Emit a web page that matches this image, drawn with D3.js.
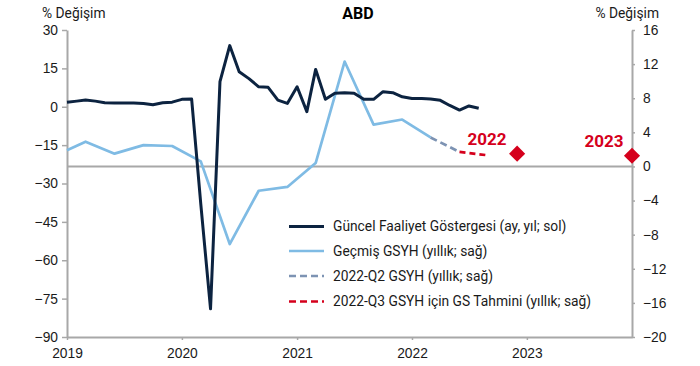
<!DOCTYPE html>
<html>
<head>
<meta charset="utf-8">
<script src="https://cdn.jsdelivr.net/npm/d3@7"></script>
<style>
  html, body { margin: 0; padding: 0; background: #fff; }
  svg { display: block; font-family: Roboto, "Noto Sans", sans-serif; }
</style>
</head>
<body>
<svg id="chart" width="700" height="366"></svg>
<script>
// ---------- DATA ----------
const activityMonths = [
  "2019-01","2019-02","2019-03","2019-04","2019-05","2019-06","2019-07","2019-08","2019-09","2019-10","2019-11","2019-12",
  "2020-01","2020-02","2020-03","2020-04","2020-05","2020-06","2020-07","2020-08","2020-09","2020-10","2020-11","2020-12",
  "2021-01","2021-02","2021-03","2021-04","2021-05","2021-06","2021-07","2021-08","2021-09","2021-10","2021-11","2021-12",
  "2022-01","2022-02","2022-03","2022-04","2022-05","2022-06","2022-07","2022-08"
];
const activityValues = [
  1.8, 2.2, 2.6, 2.2, 1.6, 1.5, 1.5, 1.5, 1.3, 0.8, 1.6, 1.8,
  2.9, 3.0, -38, -79, 9.8, 23.9, 13.7, 11.0, 7.8, 7.6, 2.6, 1.3,
  7.8, -1.9, 14.6, 2.9, 5.3, 5.5, 5.3, 2.9, 2.9, 5.9, 5.5, 3.9,
  3.2, 3.2, 3.0, 2.5, 0.5, -1.3, 0.3, -0.6
];
const gdpMonths = ["2019-01","2019-03","2019-06","2019-09","2019-12","2020-03","2020-06","2020-09","2020-12","2021-03","2021-06","2021-09","2021-12","2022-03"];
const gdpValues = [1.9, 2.9, 1.5, 2.5, 2.4, 0.6, -9.1, -2.85, -2.4, 0.4, 12.3, 4.9, 5.5, 3.4];
const q2Months = ["2022-03","2022-06"];
const q2Values = [3.4, 1.7];
const q3Months = ["2022-06","2022-09"];
const q3Values = [1.7, 1.3];
const forecastMonths = ["2022-12","2023-12"];
const forecastValues = [1.5, 1.25];
const forecastLabels = ["2022","2023"];

const leftTicks = [30, 15, 0, -15, -30, -45, -60, -75, -90];
const rightTicks = [16, 12, 8, 4, 0, -4, -8, -12, -16, -20];
const yearTicks = ["2019","2020","2021","2022","2023"];

const legendLabels = [
  "Güncel Faaliyet Göstergesi (ay, yıl; sol)",
  "Geçmiş GSYH (yıllık; sağ)",
  "2022-Q2 GSYH (yıllık; sağ)",
  "2022-Q3 GSYH için GS Tahmini (yıllık; sağ)"
];
const titleText = "ABD";
const axisTitle = "% Değişim";

// ---------- STYLE ----------
const C = {
  navy: "#0c2340",
  light: "#7fbbe4",
  dashBlue: "#7d93b3",
  red: "#d5001c",
  axis: "#a8a8a8",
  text: "#1a1a1a"
};

const svg = d3.select("#chart");
const parse = d3.timeParse("%Y-%m");
const L = 67, R = 632, T = 30, B = 337;

const x = d3.scaleTime().domain([parse("2019-01"), parse("2023-12")]).range([L, R]);
const yL = d3.scaleLinear().domain([-90, 30]).range([B, T]);
const yR = d3.scaleLinear().domain([-20, 16]).range([B, T]);

// zero line on right axis
svg.append("line")
  .attr("x1", L).attr("x2", R)
  .attr("y1", yR(0)).attr("y2", yR(0))
  .attr("stroke", C.axis).attr("stroke-width", 2);

// axes
function styleAxis(g) {
  g.select(".domain").attr("stroke", C.axis).attr("stroke-width", 2);
  g.selectAll(".tick line").attr("stroke", C.axis).attr("stroke-width", 1.5);
  g.selectAll(".tick text").attr("fill", C.text).attr("font-size", 13.8);
}

svg.append("g").attr("transform", `translate(${L},0)`)
  .call(d3.axisLeft(yL).tickValues(leftTicks).tickSize(5).tickSizeOuter(0).tickPadding(4)
    .tickFormat(d => d3.format("")(d).replace("-", "−")))
  .call(styleAxis);

svg.append("g").attr("transform", `translate(${R},0)`)
  .call(d3.axisRight(yR).tickValues(rightTicks).tickSize(3).tickSizeOuter(0).tickPadding(8)
    .tickFormat(d => d3.format("")(d).replace("-", "−")))
  .call(styleAxis);

svg.append("g").attr("transform", `translate(0,${B})`)
  .call(d3.axisBottom(x).tickValues(yearTicks.map(y => d3.timeParse("%Y")(y))).tickSize(3).tickSizeOuter(0).tickPadding(6)
    .tickFormat(d3.timeFormat("%Y")))
  .call(styleAxis)
  .call(g => g.selectAll(".tick text").attr("dy", "0.85em"));

// lines
const zip = (ms, vs) => ms.map((m, i) => ({ d: parse(m), v: vs[i] }));
const lineL = d3.line().x(p => x(p.d)).y(p => yL(p.v));
const lineR = d3.line().x(p => x(p.d)).y(p => yR(p.v));

svg.append("path").datum(zip(gdpMonths, gdpValues))
  .attr("d", lineR).attr("fill", "none").attr("stroke", C.light)
  .attr("stroke-width", 2.7).attr("stroke-linejoin", "round");

svg.append("path").datum(zip(q2Months, q2Values))
  .attr("d", lineR).attr("fill", "none").attr("stroke", C.dashBlue)
  .attr("stroke-width", 2.7).attr("stroke-dasharray", "7,4");

svg.append("path").datum(zip(q3Months, q3Values))
  .attr("d", lineR).attr("fill", "none").attr("stroke", C.red)
  .attr("stroke-width", 2.7).attr("stroke-dasharray", "6,4");

svg.append("path").datum(zip(activityMonths, activityValues))
  .attr("d", lineL).attr("fill", "none").attr("stroke", C.navy)
  .attr("stroke-width", 3).attr("stroke-linejoin", "round");

// forecast diamonds
const fc = zip(forecastMonths, forecastValues);
svg.selectAll(".diamond").data(fc).enter().append("path")
  .attr("class", "diamond")
  .attr("d", d3.symbol().type(d3.symbolSquare).size(130)())
  .attr("transform", p => `translate(${x(p.d)},${yR(p.v)}) rotate(45)`)
  .attr("fill", C.red);

svg.selectAll(".flabel").data(fc).enter().append("text")
  .attr("x", (p, i) => x(p.d) - (i === 0 ? 30 : 28))
  .attr("y", p => yR(p.v) - 9)
  .attr("text-anchor", "middle")
  .attr("font-size", 17).attr("font-weight", "bold")
  .attr("fill", C.red)
  .text((p, i) => forecastLabels[i]);

// titles
svg.append("text").attr("x", 358).attr("y", 19).attr("text-anchor", "middle")
  .attr("font-size", 16).attr("font-weight", "bold").attr("fill", "#000").text(titleText);
svg.append("text").attr("x", 42).attr("y", 18).attr("font-size", 13.8).attr("fill", C.text).text(axisTitle);
svg.append("text").attr("x", 659).attr("y", 18).attr("text-anchor", "end").attr("font-size", 13.8).attr("fill", C.text).text(axisTitle);

// legend
const legendStyles = [
  { color: C.navy, dash: null, w: 3 },
  { color: C.light, dash: null, w: 2.7 },
  { color: C.dashBlue, dash: "7,4", w: 2.7 },
  { color: C.red, dash: "7,4", w: 2.7 }
];
const legendY = [226.5, 251, 276, 301.5];
const lg = svg.append("g");
legendLabels.forEach((lab, i) => {
  lg.append("line").attr("x1", 289).attr("x2", 324)
    .attr("y1", legendY[i]).attr("y2", legendY[i])
    .attr("stroke", legendStyles[i].color).attr("stroke-width", legendStyles[i].w)
    .attr("stroke-dasharray", legendStyles[i].dash);
  lg.append("text").attr("x", 333).attr("y", legendY[i]).attr("dy", "0.35em")
    .attr("font-size", 13.8).attr("fill", C.text).text(lab);
});
</script>
</body>
</html>
